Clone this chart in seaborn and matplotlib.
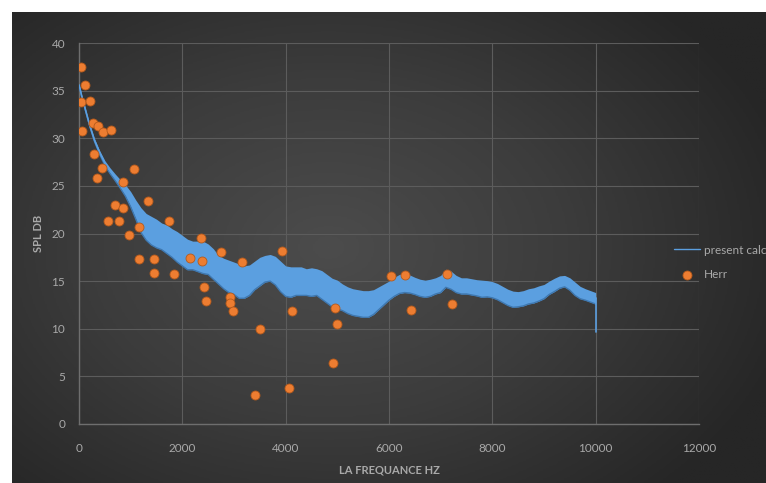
import numpy as np
import pandas as pd
import matplotlib
matplotlib.use("Agg")
import matplotlib.pyplot as plt
import seaborn as sns

# Computed SPL curve: frequency (Hz), mid value and half spread of the noisy band (dB)
calc_freq = [0, 20, 50, 100, 150, 200, 300, 400, 500, 600, 700, 800, 900, 1000,
             1100, 1200, 1300, 1400, 1500, 1600, 1700, 1800, 1900, 2000,
             2100, 2200, 2300, 2400, 2500, 2600, 2700, 2800, 2900, 3000,
             3100, 3200, 3300, 3400, 3500, 3600, 3700, 3800, 3900, 4000,
             4100, 4200, 4300, 4400, 4500, 4600, 4700, 4800, 4900, 5000,
             5100, 5200, 5300, 5400, 5500, 5600, 5700, 5800, 5900, 6000,
             6100, 6200, 6300, 6400, 6500, 6600, 6700, 6800, 6900, 7000,
             7100, 7200, 7300, 7400, 7500, 7600, 7700, 7800, 7900, 8000,
             8100, 8200, 8300, 8400, 8500, 8600, 8700, 8800, 8900, 9000,
             9100, 9200, 9300, 9400, 9500, 9600, 9700, 9800, 9900, 10000]
calc_mid = [35.6, 35.2, 34.5, 33.5, 32.5, 31.5, 29.8, 28.5, 27.4, 26.6, 25.9, 25.2, 24.5, 23.6,
            22.5, 21.4, 20.7, 20.3, 20.0, 19.7, 19.4, 19.0, 18.6, 18.2,
            17.8, 17.7, 17.6, 17.5, 17.3, 16.8, 16.2, 15.8, 15.5, 15.3,
            15.0, 14.9, 15.1, 15.6, 16.0, 16.3, 16.4, 16.1, 15.5, 15.0,
            14.9, 15.0, 15.0, 14.9, 14.9, 14.9, 14.6, 14.2, 13.8, 13.6,
            13.3, 13.0, 12.8, 12.7, 12.6, 12.6, 12.8, 13.2, 13.6, 14.0,
            14.4, 14.7, 14.8, 14.7, 14.5, 14.3, 14.2, 14.3, 14.5, 14.7,
            15.3, 15.1, 14.7, 14.5, 14.5, 14.4, 14.3, 14.2, 14.2, 14.1,
            13.9, 13.6, 13.3, 13.1, 13.1, 13.2, 13.4, 13.5, 13.7, 13.9,
            14.3, 14.6, 14.9, 15.0, 14.7, 14.2, 13.8, 13.6, 13.4, 13.2]
calc_spread = [0.1, 0.1, 0.1, 0.1, 0.1, 0.1, 0.15, 0.2, 0.25, 0.3, 0.35, 0.45, 0.6, 0.8,
               1.0, 1.3, 1.4, 1.5, 1.5, 1.4, 1.5, 1.5, 1.6, 1.6,
               1.6, 1.5, 1.6, 1.7, 1.6, 1.6, 1.5, 1.6, 1.7, 1.7,
               1.8, 1.7, 1.6, 1.5, 1.5, 1.4, 1.4, 1.5, 1.6, 1.6,
               1.6, 1.5, 1.5, 1.4, 1.5, 1.4, 1.5, 1.5, 1.5, 1.5,
               1.4, 1.4, 1.4, 1.4, 1.4, 1.4, 1.3, 1.2, 1.1, 1.0,
               1.0, 1.0, 1.0, 0.95, 0.9, 0.9, 0.9, 0.9, 0.85, 0.9,
               0.95, 0.95, 0.9, 0.85, 0.85, 0.85, 0.85, 0.9, 0.85, 0.85,
               0.85, 0.85, 0.85, 0.85, 0.8, 0.8, 0.8, 0.8, 0.8, 0.75,
               0.7, 0.7, 0.65, 0.6, 0.65, 0.7, 0.65, 0.6, 0.6, 0.6]
calc_end_freq = [10000, 10000]
calc_end_spl = [13.2, 9.7]

# Measured points (Herr)
herr_freq = [39, 116, 33, 213, 265, 362, 458, 625, 52, 290, 451, 1065, 342, 858,
             1342, 697, 858, 555, 768, 1748, 1161, 962, 1161, 1446, 1452, 1845, 2150,
             2355, 2387, 2742, 3149, 3935, 2419, 2452, 2923, 2923, 2987, 3503, 4129,
             3406, 4065, 6039, 6310, 6426, 4955, 4999, 4910, 7117, 7213]
herr_spl = [37.5, 35.6, 33.8, 33.9, 31.6, 31.3, 30.7, 30.9, 30.8, 28.3, 26.9, 26.8, 25.8, 25.4,
            23.4, 23.0, 22.7, 21.3, 21.3, 21.3, 20.7, 19.8, 17.3, 17.3, 15.9, 15.7, 17.4,
            19.5, 17.1, 18.1, 17.0, 18.2, 14.4, 12.9, 13.3, 12.7, 11.9, 9.95, 11.9,
            3.0, 3.8, 15.5, 15.6, 12.0, 12.2, 10.5, 6.4, 15.7, 12.6]

x_ticks = [0, 2000, 4000, 6000, 8000, 10000, 12000]
y_ticks = [0, 5, 10, 15, 20, 25, 30, 35, 40]

BLUE = "#5b9fe0"
BLUE_DARK = "#3f78b0"
ORANGE = "#ed7d31"
TEXT = "#a9a9a9"
GRID = "#5c5c5c"

sns.set_theme(style="dark")
plt.rcParams["font.family"] = ["Lato", "DejaVu Sans"]

W, H = 766, 483
fig = plt.figure(figsize=(W / 100, H / 100), dpi=100, facecolor="white")

# dark radial-gradient panel behind the chart
bg = fig.add_axes([12 / W, 0, 1 - 12 / W, 1 - 12 / H], zorder=0)
gy, gx = np.mgrid[0:1:300j, 0:1:500j]
dist = np.sqrt(((gx - 0.42) / 0.75) ** 2 + ((gy - 0.5) / 0.85) ** 2)
bg.imshow(dist, cmap=matplotlib.colors.LinearSegmentedColormap.from_list(
    "panel", ["#4c4c4c", "#3c3c3c", "#262626"]), aspect="auto",
    extent=[0, 1, 0, 1], vmin=0, vmax=0.85)
bg.set_axis_off()

ax = fig.add_axes([79 / W, 1 - 424 / H, 620 / W, 381 / H], zorder=1)
ax.set_facecolor("none")

# band of the computed curve: low / mid / high rows per frequency
calc = pd.DataFrame({
    "freq": np.repeat(calc_freq, 3),
    "spl": np.ravel([[m - s, m, m + s] for m, s in zip(calc_mid, calc_spread)]),
})
lower = [m - s for m, s in zip(calc_mid, calc_spread)]
ax.plot(calc_freq, lower, color=BLUE_DARK, linewidth=1.0, zorder=2.9)
sns.lineplot(data=calc, x="freq", y="spl", estimator="median", errorbar=("pi", 100),
             color=BLUE, linewidth=1.2, err_kws={"alpha": 1.0, "linewidth": 0},
             ax=ax, zorder=3, label="present calculation")
ax.plot(calc_end_freq, calc_end_spl, color=BLUE, linewidth=1.2, zorder=3)

herr = pd.DataFrame({"freq": herr_freq, "spl": herr_spl})
sns.scatterplot(data=herr, x="freq", y="spl", color=ORANGE, s=42,
                edgecolor="#b55a1c", linewidth=0.6, ax=ax, zorder=4, label="Herr")

ax.set_xlim(0, 12000)
ax.set_ylim(0, 40)
ax.set_xticks(x_ticks)
ax.set_yticks(y_ticks)
ax.grid(True, color=GRID, linewidth=0.8)
for side in ["top", "right"]:
    ax.spines[side].set_visible(False)
for side in ["left", "bottom"]:
    ax.spines[side].set_visible(True)
    ax.spines[side].set_color("#6e6e6e")
    ax.spines[side].set_linewidth(1.0)
ax.tick_params(axis="both", length=0, colors=TEXT, labelsize=8.5)
ax.tick_params(axis="x", pad=14)
ax.tick_params(axis="y", pad=10)
ax.set_xlabel("LA FREQUANCE HZ", color=TEXT, fontsize=8, fontweight="bold", labelpad=7)
ax.set_ylabel("SPL DB", color=TEXT, fontsize=8, fontweight="bold", labelpad=5)

handles, labels = ax.get_legend_handles_labels()
ax.get_legend().remove()
leg = fig.legend(handles, labels, loc="upper left",
                 bbox_to_anchor=(663 / W, 1 - 234 / H), frameon=False,
                 fontsize=8.5, labelcolor=TEXT, handlelength=2.2,
                 handletextpad=0.4, labelspacing=1.15)
for line in leg.get_lines():
    line.set_linewidth(1.0)

fig.savefig("out.png", dpi=100, facecolor="white")
